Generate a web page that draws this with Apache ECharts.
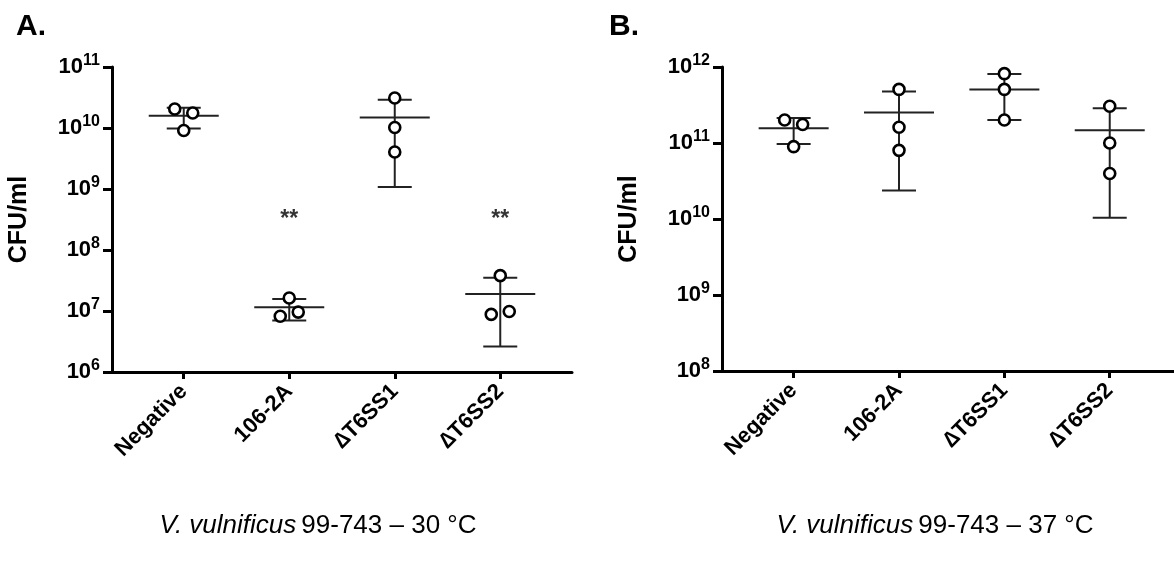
<!DOCTYPE html>
<html><head><meta charset="utf-8">
<script src="https://cdn.jsdelivr.net/npm/echarts@6/dist/echarts.min.js"></script>
<style>html,body{margin:0;padding:0;background:#fff}#c{width:1174px;height:576px}</style>
</head><body><div id="c"></div>
<script>
// ---------- data ----------
const categories = ['Negative', '106-2A', '\u2206T6SS1', '\u2206T6SS2'];
// Panel A (30 °C): individual replicates (CFU/ml)
const pointsA = [
  [2.05e10, 1.76e10, 9.1e9],
  [1.63e7, 8.2e6, 9.6e6],
  [3.1e10, 1.02e10, 4.05e9],
  [3.8e7, 8.8e6, 9.8e6]
];
const meanA = [1.59e10, 1.15e7, 1.49e10, 1.9e7];
const lowA  = [9.8e9, 7.0e6, 1.08e9, 2.63e6];
const highA = [2.14e10, 1.57e7, 2.91e10, 3.5e7];
const sigA  = ['', '**', '', '**'];
// Panel B (37 °C)
const pointsB = [
  [2.01e11, 1.75e11, 8.95e10],
  [5.07e11, 1.61e11, 8.0e10],
  [8.17e11, 5.07e11, 2.01e11],
  [3.05e11, 1.0e11, 3.97e10]
];
const meanB = [1.56e11, 2.51e11, 5.07e11, 1.47e11];
const lowB  = [9.7e10, 2.37e10, 2.0e11, 1.04e10];
const highB = [2.14e11, 4.77e11, 8.1e11, 2.87e11];
const sigB  = ['', '', '', ''];
const yTicksA = [1e6, 1e7, 1e8, 1e9, 1e10, 1e11];
const yTicksB = [1e8, 1e9, 1e10, 1e11, 1e12];
const titleA = ['V. vulnificus', '99-743 \u2013 30 \u00B0C'];
const titleB = ['V. vulnificus', '99-743 \u2013 37 \u00B0C'];
const panelLetters = ['A.', 'B.'];
const yName = 'CFU/ml';

// ---------- layout/style ----------
const JIT_A = [[-9, 9, 0], [0, -9, 9], [0, 0, 0], [0, -9, 9]];
const JIT_B = [[-9, 9, 0], [0, 0, 0], [0, 0, 0], [0, 0, 0]];
const STAR_Y = 3.2e8;
const FONT = '"Liberation Sans", Arial, sans-serif';

const chart = echarts.init(document.getElementById('c'), null, {renderer: 'canvas'});

function supLabel(v) {
  const e = Math.round(Math.log10(v));
  return '{b|10}{s|' + e + '}';
}

function axesFor(gi, ticks, xmax) {
  const xAxis = {
    type: 'value', gridIndex: gi, min: 0.32, max: xmax,
    splitLine: {show: false},
    axisLine: {show: true, onZero: false, lineStyle: {color: '#000', width: 3}},
    axisTick: {show: true, length: 7, customValues: [1, 2, 3, 4], lineStyle: {color: '#000', width: 3}},
    axisLabel: {
      show: true, customValues: [1, 2, 3, 4], rotate: 45, margin: 16,
      formatter: v => categories[Math.round(v) - 1] || '',
      color: '#000', fontFamily: FONT, fontWeight: 'bold', fontSize: 22
    }
  };
  const yAxis = {
    type: 'log', logBase: 10, gridIndex: gi, min: ticks[0], max: ticks[ticks.length - 1],
    name: yName, nameLocation: 'middle', nameRotate: 90, nameGap: 80,
    nameTextStyle: {color: '#000', fontFamily: FONT, fontWeight: 'bold', fontSize: 25},
    splitLine: {show: false},
    axisLine: {show: true, onZero: false, lineStyle: {color: '#000', width: 3}},
    axisTick: {show: true, length: 9, inside: false, lineStyle: {color: '#000', width: 3}},
    axisLabel: {
      formatter: supLabel, margin: 12,
      rich: {
        b: {fontFamily: FONT, fontWeight: 'bold', fontSize: 22, color: '#000'},
        s: {fontFamily: FONT, fontWeight: 'bold', fontSize: 16, color: '#000', padding: [0, 0, 12, 0]}
      }
    }
  };
  return {xAxis, yAxis};
}

function seriesFor(gi, points, jit, mean, low, high, sig) {
  const errData = mean.map((m, i) => [i + 1, m, low[i], high[i]]);
  const ptData = [];
  points.forEach((arr, i) => arr.forEach((v, j) => {
    ptData.push({value: [i + 1, v], symbolOffset: [jit[i][j], 0]});
  }));
  const sigData = [];
  sig.forEach((s, i) => { if (s) sigData.push({value: [i + 1, STAR_Y], name: s}); });
  return [
    {
      type: 'custom', xAxisIndex: gi, yAxisIndex: gi, z: 2,
      data: errData,
      encode: {x: 0, y: [1, 2, 3]},
      renderItem: function (params, api) {
        const x = api.value(0);
        const pm = api.coord([x, api.value(1)]);
        const pl = api.coord([x, api.value(2)]);
        const ph = api.coord([x, api.value(3)]);
        const st = {stroke: '#222', lineWidth: 2};
        const cap = 17, mw = 35;
        return {type: 'group', children: [
          {type: 'line', shape: {x1: pm[0], y1: ph[1], x2: pm[0], y2: pl[1]}, style: st},
          {type: 'line', shape: {x1: pm[0] - cap, y1: ph[1], x2: pm[0] + cap, y2: ph[1]}, style: st},
          {type: 'line', shape: {x1: pm[0] - cap, y1: pl[1], x2: pm[0] + cap, y2: pl[1]}, style: st},
          {type: 'line', shape: {x1: pm[0] - mw, y1: pm[1], x2: pm[0] + mw, y2: pm[1]}, style: st}
        ]};
      }
    },
    {
      type: 'scatter', xAxisIndex: gi, yAxisIndex: gi, z: 5,
      symbol: 'circle', symbolSize: 11,
      itemStyle: {color: '#fff', borderColor: '#000', borderWidth: 2.6, opacity: 1},
      emphasis: {disabled: true},
      data: ptData
    },
    {
      type: 'scatter', xAxisIndex: gi, yAxisIndex: gi, z: 6,
      symbol: 'circle', symbolSize: 2,
      itemStyle: {color: 'rgba(0,0,0,0)'},
      emphasis: {disabled: true},
      label: {show: true, position: 'inside', formatter: p => p.name,
        color: '#000', fontFamily: FONT, fontWeight: 'bold', fontSize: 23},
      data: sigData
    }
  ];
}

const a = axesFor(0, yTicksA, 4.68);
const b = axesFor(1, yTicksB, 4.61);

const titleRich = {
  i: {fontFamily: FONT, fontStyle: 'italic', fontWeight: 'normal', fontSize: 26, color: '#000'},
  n: {fontFamily: FONT, fontWeight: 'normal', fontSize: 26, color: '#000'}
};

const option = {
  backgroundColor: '#fff',
  animation: false,
  title: [
    {text: panelLetters[0], left: 11, top: 7, textStyle: {fontFamily: FONT, fontWeight: 'bold', fontSize: 30, color: '#000'}},
    {text: panelLetters[1], left: 604, top: 7, textStyle: {fontFamily: FONT, fontWeight: 'bold', fontSize: 30, color: '#000'}},
    {text: '{i|' + titleA[0] + '} {n|' + titleA[1] + '}', left: 313, textAlign: 'center', top: 508,
      textStyle: {fontWeight: 'normal', rich: titleRich}},
    {text: '{i|' + titleB[0] + '} {n|' + titleB[1] + '}', left: 930, textAlign: 'center', top: 508,
      textStyle: {fontWeight: 'normal', rich: titleRich}}
  ],
  grid: [
    {left: 112, right: 602, top: 67, bottom: 204},
    {left: 722, right: 0, top: 67, bottom: 205}
  ],
  xAxis: [a.xAxis, b.xAxis],
  yAxis: [a.yAxis, b.yAxis],
  series: [].concat(
    seriesFor(0, pointsA, JIT_A, meanA, lowA, highA, sigA),
    seriesFor(1, pointsB, JIT_B, meanB, lowB, highB, sigB)
  )
};
chart.setOption(option);
</script></body></html>
